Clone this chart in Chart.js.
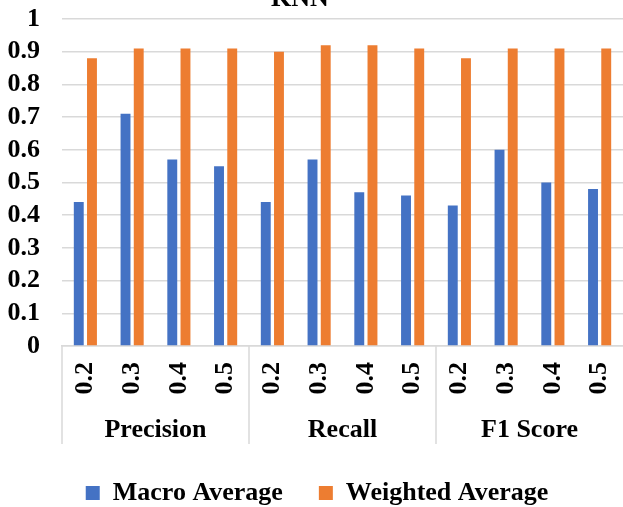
<!DOCTYPE html>
<html>
<head>
<meta charset="utf-8">
<script src="https://cdn.jsdelivr.net/npm/chart.js@4/dist/chart.umd.min.js"></script>
<style>
  html, body { margin: 0; padding: 0; background: #fff; }
  #wrap { width: 623px; height: 507px; position: relative; }
</style>
</head>
<body>
<div id="wrap"><canvas id="c" width="623" height="507"></canvas></div>
<script>
const chartTitle = 'KNN';
const groups = ['Precision', 'Recall', 'F1 Score'];
const thresholds = ['0.2', '0.3', '0.4', '0.5'];
const macroAverage = [0.44, 0.71, 0.57, 0.55, 0.44, 0.57, 0.47, 0.46, 0.43, 0.60, 0.50, 0.48];
const weightedAverage = [0.88, 0.91, 0.91, 0.91, 0.90, 0.92, 0.92, 0.91, 0.88, 0.91, 0.91, 0.91];
const yTicks = [0, 0.1, 0.2, 0.3, 0.4, 0.5, 0.6, 0.7, 0.8, 0.9, 1];

const labels = [];
groups.forEach(() => thresholds.forEach(t => labels.push(t)));

const FONT = "'Liberation Serif', 'Times New Roman', serif";
const GRID = '#D9D9D9';

const groupPlugin = {
  id: 'groupPlugin',
  afterDraw(chart) {
    const ctx = chart.ctx;
    const xs = chart.scales.x;
    const ca = chart.chartArea;
    const step = xs.getPixelForValue(1) - xs.getPixelForValue(0);
    ctx.save();
    // title
    ctx.fillStyle = '#000';
    ctx.font = 'bold 26px ' + FONT;
    ctx.textAlign = 'center';
    ctx.textBaseline = 'alphabetic';
    ctx.fillText(chartTitle, 300, 6);
    // group dividers and labels
    ctx.strokeStyle = GRID;
    ctx.lineWidth = 1.5;
    const n = thresholds.length;
    groups.forEach((g, gi) => {
      const first = gi * n, last = gi * n + n - 1;
      const xl = xs.getPixelForValue(first) - step / 2;
      ctx.beginPath();
      ctx.moveTo(xl, ca.bottom);
      ctx.lineTo(xl, xs.bottom);
      ctx.stroke();
      const cx = (xs.getPixelForValue(first) + xs.getPixelForValue(last)) / 2;
      ctx.fillText(g, cx, ca.bottom + 91);
    });
    ctx.restore();
  }
};

new Chart(document.getElementById('c'), {
  type: 'bar',
  data: {
    labels: labels,
    datasets: [
      { label: 'Macro Average', data: macroAverage, backgroundColor: '#4472C4', borderWidth: 0,
        categoryPercentage: 0.565, barPercentage: 0.75 },
      { label: 'Weighted Average', data: weightedAverage, backgroundColor: '#ED7D31', borderWidth: 0,
        categoryPercentage: 0.565, barPercentage: 0.75 }
    ]
  },
  options: {
    responsive: false,
    animation: false,
    devicePixelRatio: 1,
    layout: { padding: { top: 19, left: 7, right: -4, bottom: -9 } },
    plugins: {
      title: { display: false },
      tooltip: { enabled: false },
      legend: {
        position: 'bottom',
        labels: {
          font: { family: FONT, size: 26, weight: 'bold' },
          color: '#000',
          boxWidth: 14,
          boxHeight: 14,
          padding: 36
        }
      }
    },
    scales: {
      x: {
        grid: { display: false, drawTicks: false },
        border: { display: true, color: GRID, width: 1.5 },
        ticks: {
          font: { family: FONT, size: 26, weight: 'bold' },
          color: '#000',
          minRotation: 90,
          maxRotation: 90,
          padding: 16,
          autoSkip: false
        },
        afterFit(scale) {
          scale.height = 98;
          scale.paddingLeft = 0; scale.paddingRight = 0;
        }
      },
      y: {
        min: 0,
        max: 1,
        afterBuildTicks(scale) { scale.ticks = yTicks.map(v => ({ value: v })); },
        grid: { color: GRID, lineWidth: 1.5, drawTicks: false },
        border: { display: false },
        ticks: {
          font: { family: FONT, size: 26, weight: 'bold' },
          color: '#000',
          padding: 22,
          autoSkip: false,
          callback: v => String(Math.round(v * 10) / 10)
        },
        afterFit(scale) {
          scale.width = 55;
          scale.paddingTop = 0; scale.paddingBottom = 0;
        }
      }
    }
  },
  plugins: [groupPlugin]
});
</script>
</body>
</html>
